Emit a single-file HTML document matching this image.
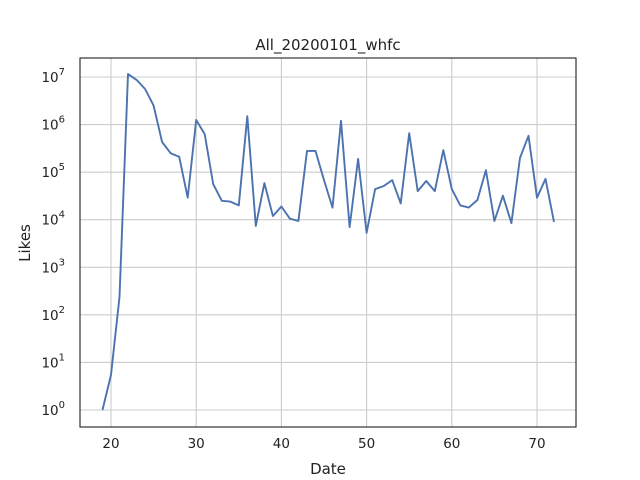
<!DOCTYPE html>
<html><head><meta charset="utf-8"><style>
body{margin:0;background:#fff}
svg{display:block;font-family:"DejaVu Sans","Liberation Sans",sans-serif}
</style></head><body>
<svg id="chart" width="640" height="480">
<rect width="640" height="480" fill="#fff"/>
<g id="grid"></g><g id="ticks"></g>
<path id="line" fill="none" stroke="#4c72b0" stroke-width="1.9" stroke-linejoin="round"/>
<rect x="80" y="58" width="496" height="369" fill="none" stroke="#333" stroke-width="1.2"/>
<text x="328" y="50" text-anchor="middle" font-size="15" fill="#222">All_20200101_whfc</text>
<text x="328" y="474" text-anchor="middle" font-size="15" fill="#222">Date</text>
<text transform="translate(30,243) rotate(-90)" text-anchor="middle" font-size="15" fill="#222">Likes</text>
</svg>
<script>
const dates=[19,20,21,22,23,24,25,26,27,28,29,30,31,32,33,34,35,36,37,38,39,40,41,42,43,44,45,46,47,48,49,50,51,52,53,54,55,56,57,58,59,60,61,62,63,64,65,66,67,68,69,70,71,72];
const likes=[1,5.5,237,1.15e7,8.7e6,5.6e6,2.5e6,4.3e5,2.5e5,2.1e5,2.9e4,1.25e6,6.3e5,5.6e4,2.5e4,2.4e4,2.0e4,1.5e6,7.4e3,5.9e4,1.2e4,1.9e4,1.05e4,9.4e3,2.8e5,2.8e5,6.8e4,1.8e4,1.2e6,7.0e3,1.9e5,5.3e3,4.4e4,5.1e4,6.8e4,2.2e4,6.6e5,4.0e4,6.5e4,4.0e4,2.9e5,4.4e4,2.0e4,1.8e4,2.6e4,1.1e5,9.4e3,3.2e4,8.5e3,2.0e5,5.8e5,2.9e4,7.2e4,9.0e3];
const xTicks=[20,30,40,50,60,70];
const yTickExps=[0,1,2,3,4,5,6,7];
const X=v=>111+(v-20)*8.52;
const Y=v=>410-Math.log10(v)*47.57;
const ns="http://www.w3.org/2000/svg";
const grid=document.getElementById('grid'),ticks=document.getElementById('ticks');
function mk(tag,attrs,parent){const e=document.createElementNS(ns,tag);for(const k in attrs)e.setAttribute(k,attrs[k]);parent.appendChild(e);return e;}
xTicks.forEach(t=>{
 const l=mk('line',{x1:X(t),x2:X(t),y1:58,y2:427,stroke:'#cccccc','stroke-width':1.1},grid);
 
 
 const tx=mk('text',{x:X(t),y:448,'text-anchor':'middle','font-size':13.5,fill:'#222'},ticks);
 tx.textContent=t;
 
 
});
yTickExps.forEach(e=>{
 const y=Y(Math.pow(10,e));
 const l=mk('line',{x1:80,x2:576,y1:y,y2:y,stroke:'#cccccc','stroke-width':1.1},grid);
 
 
 const tx=mk('text',{x:65,y:y+5,'text-anchor':'end','font-size':13.5,fill:'#222'},ticks);
 tx.textContent='10';
 const s=mk('tspan',{dy:-7,'font-size':10},tx);s.textContent=e;
 
 
});
document.getElementById('line').setAttribute('d',dates.map((d,i)=>(i?'L':'M')+X(d).toFixed(1)+','+Y(likes[i]).toFixed(1)).join(''));
</script>
</body></html>
